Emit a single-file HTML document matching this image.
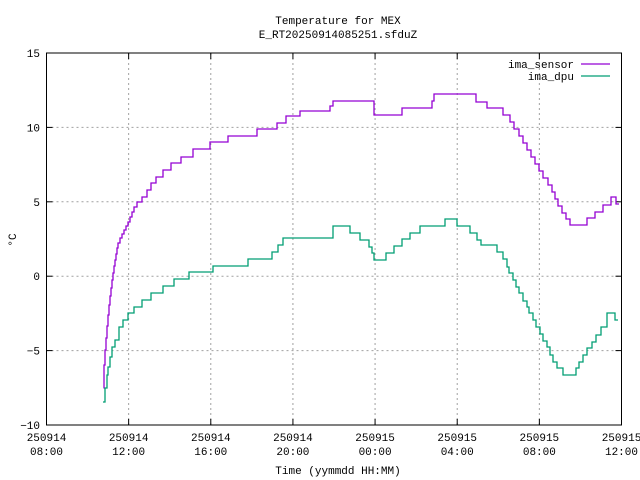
<!DOCTYPE html>
<html><head><meta charset="utf-8"><style>
body{margin:0;background:#fff}
svg{display:block;font-family:"Liberation Mono","DejaVu Sans Mono",monospace;font-size:11px}
</style></head><body>
<svg id="s" width="640" height="480" xmlns="http://www.w3.org/2000/svg">
<rect width="640" height="480" fill="#fff"/>
<g id="grid" stroke="#a0a0a0" stroke-dasharray="2,3" stroke-width="1"></g>
<g id="ticks" stroke="#000" stroke-width="1"></g>
<g id="labels" fill="#000"></g>
<text x="338" y="24" text-anchor="middle">Temperature for MEX</text>
<text x="338" y="38" text-anchor="middle">E_RT20250914085251.sfduZ</text>
<text x="338" y="474" text-anchor="middle">Time (yymmdd HH:MM)</text>
<text x="16" y="240" text-anchor="middle" transform="rotate(-90 16 240)">°C</text>
<text x="574" y="68" text-anchor="end">ima_sensor</text>
<line x1="581" y1="64" x2="610" y2="64" stroke="#9400d3" stroke-width="1.3"/>
<text x="574" y="80" text-anchor="end">ima_dpu</text>
<line x1="581" y1="76" x2="610" y2="76" stroke="#009e73" stroke-width="1.3"/>
<path id="p1" fill="none" stroke="#9400d3" stroke-width="1.3"/>
<path id="p2" fill="none" stroke="#009e73" stroke-width="1.3"/>
<rect x="46.5" y="53" width="575" height="372" fill="none" stroke="#000" stroke-width="1"/>
</svg>
<script>
var L=46.5,R=621.5,T=53,B=425,NS="http://www.w3.org/2000/svg";
function el(g,t,a,txt){var e=document.createElementNS(NS,t);for(var k in a)e.setAttribute(k,a[k]);if(txt)e.textContent=txt;document.getElementById(g).appendChild(e);}
var xl=["08:00","12:00","16:00","20:00","00:00","04:00","08:00","12:00"],dl=["250914","250914","250914","250914","250915","250915","250915","250915"];
for(var i=0;i<8;i++){var x=L+i*(R-L)/7;
 if(i>0&&i<7)el("grid","line",{x1:x,y1:T,x2:x,y2:B});
 el("ticks","line",{x1:x,y1:B,x2:x,y2:B-6});el("ticks","line",{x1:x,y1:T,x2:x,y2:T+6});
 el("labels","text",{x:x,y:441,"text-anchor":"middle"},dl[i]);el("labels","text",{x:x,y:455,"text-anchor":"middle"},xl[i]);}
for(var v=-10;v<=15;v+=5){var y=T+(15-v)*(B-T)/25;
 if(v>-10&&v<15)el("grid","line",{x1:L,y1:y,x2:R,y2:y});
 el("ticks","line",{x1:L,y1:y,x2:L+6,y2:y});el("ticks","line",{x1:R,y1:y,x2:R-6,y2:y});
 el("labels","text",{x:40,y:y+4,"text-anchor":"end"},v<0?"\u2212"+(-v):""+v);}
function step(p){var d="M"+p[0][0]+","+p[0][1];for(var i=1;i<p.length;i++){d+="H"+p[i][0]+"V"+p[i][1];}return d;}
var s=[[103.5,388],[104,365],[105,350],[106,338],[107,326],[108,315],[109,305],[110,296],[111,288],[112,280],[113,273],[114,266],[115,260],[116,254],[117,248],[118,243],[120,238],[122,234],[124,230],[126,226],[128,222],[130,217],[132,212],[134,207],[137,202],[142,197],[147,190],[151,183],[156,177],[163,170],[171,163],[181,157],[193,149],[210,142],[228,136],[257,129],[277,123],[286,116],[300,111],[330,106],[333,101],[372,101],[374,115],[400,115],[402,108],[432,101],[434,94],[475,94],[476,102],[487,102],[487,108],[503,108],[503,115],[510,115],[510,122],[514,122],[514,129],[519,129],[519,136],[523,136],[523,143],[527,143],[527,150],[531,150],[531,157],[535,157],[535,164],[539,164],[539,171],[543,171],[543,178],[548,178],[548,185],[552,185],[552,192],[555,192],[555,199],[558,199],[558,206],[562,206],[562,213],[566,213],[566,219],[570,219],[570,225],[587,225],[587,218],[595,218],[595,212],[603,212],[603,205],[611,205],[611,197],[616,197],[616,204],[619,204]];
var d=[[103,402],[105,388],[107,375],[108,367],[110,357],[112,347],[115,340],[119,327],[123,320],[128,313],[134,307],[142,300],[151,293],[163,286],[174,279],[189,272],[213,266],[248,259],[272,252],[278,245],[283,238],[330,238],[333,226],[348,226],[350,233],[358,233],[360,240],[366,240],[369,247],[372,253],[374,260],[384,260],[386,253],[392,253],[394,246],[400,246],[402,239],[408,239],[410,233],[418,233],[420,226],[443,226],[445,219],[457,219],[457,226],[467,226],[470,233],[475,233],[477,240],[481,240],[481,245],[497,245],[497,252],[503,252],[503,259],[507,259],[507,267],[509,267],[509,273],[513,273],[513,280],[516,280],[516,287],[519,287],[519,293],[523,293],[523,301],[527,301],[527,307],[529,307],[529,313],[533,313],[533,320],[536,320],[536,327],[540,327],[540,334],[543,334],[543,341],[547,341],[547,347],[550,347],[550,355],[553,355],[553,362],[557,362],[557,368],[563,368],[563,375],[576,375],[576,368],[579,368],[579,362],[583,362],[583,355],[587,355],[587,348],[592,348],[592,342],[596,342],[596,335],[601,335],[601,327],[607,327],[607,313],[615,313],[615,320],[618,320]];
document.getElementById("p1").setAttribute("d",step(s));
document.getElementById("p2").setAttribute("d",step(d));
</script>
</body></html>
